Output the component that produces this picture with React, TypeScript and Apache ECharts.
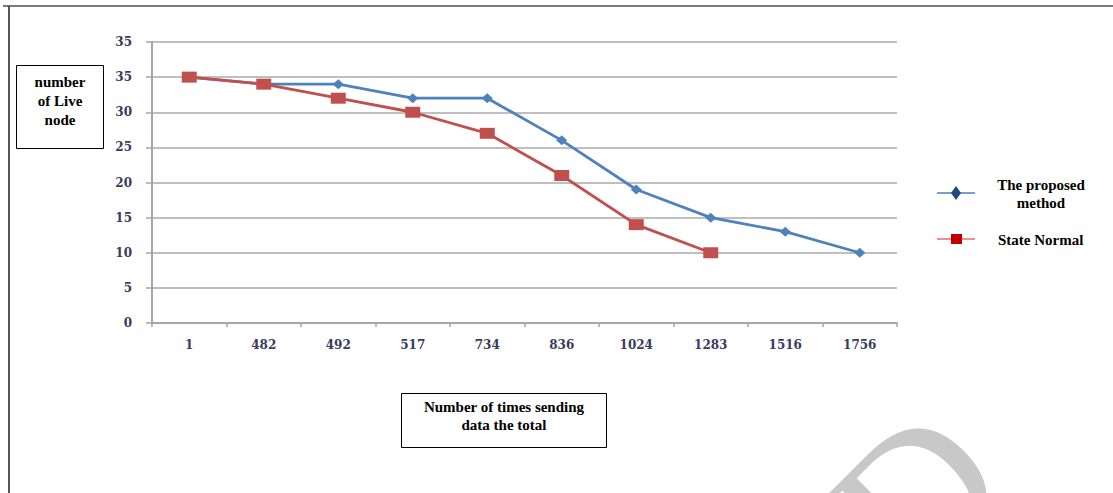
import React, { useEffect, useRef } from "react";
import * as echarts from "echarts";

// Number of data transmissions (category axis)
const sendCounts = ["1", "482", "492", "517", "734", "836", "1024", "1283", "1516", "1756"];
// Live nodes remaining for each method
const proposedMethod = [35, 34, 34, 32, 32, 26, 19, 15, 13, 10];
const stateNormal = [35, 34, 32, 30, 27, 21, 14, 10];
// Y-axis labels as printed (the top gridline carries "35")
const yTickLabels: Record<number, string> = { 0: "0", 5: "5", 10: "10", 15: "15", 20: "20", 25: "25", 30: "30", 35: "35", 40: "35" };

const BLUE = "#4F81BD";
const RED = "#C0504D";
const SERIF = "'Liberation Serif', 'Times New Roman', serif";
const AXIS_FONT = "'DejaVu Serif', serif";

export default function App() {
  const ref = useRef<HTMLDivElement>(null);

  useEffect(() => {
    if (!ref.current) return;
    const chart = echarts.init(ref.current, undefined, { renderer: "svg" });
    chart.setOption({
      animation: false,
      backgroundColor: "#ffffff",
      grid: { left: 152, right: 216, top: 42, bottom: 170, containLabel: false },
      xAxis: {
        type: "category",
        data: sendCounts,
        boundaryGap: true,
        axisLine: { lineStyle: { color: "#A6A6A6", width: 2 } },
        axisTick: { show: true, inside: false, length: 4, lineStyle: { color: "#A6A6A6", width: 1.5 } },
        axisLabel: { color: "#3b3b5c", fontFamily: AXIS_FONT, fontWeight: "bold", fontSize: 12, margin: 16 },
        splitLine: { show: false },
      },
      yAxis: {
        type: "value",
        min: 0,
        max: 40,
        interval: 5,
        axisLine: { show: true, lineStyle: { color: "#A6A6A6", width: 2 } },
        axisTick: { show: true, length: 6, lineStyle: { color: "#A6A6A6", width: 1.5 } },
        axisLabel: {
          color: "#3b3b5c",
          fontFamily: AXIS_FONT,
          fontWeight: "bold",
          fontSize: 12,
          margin: 20,
          formatter: (v: number) => yTickLabels[v] ?? String(v),
        },
        splitLine: { show: true, lineStyle: { color: "#BFBFBF", width: 2 } },
      },
      series: [
        {
          name: "The proposed method",
          type: "line",
          data: proposedMethod,
          lineStyle: { color: BLUE, width: 2.8 },
          itemStyle: { color: BLUE },
          symbol: "diamond",
          symbolSize: [11, 10],
        },
        {
          name: "State Normal",
          type: "line",
          data: stateNormal,
          lineStyle: { color: RED, width: 2.8 },
          itemStyle: { color: RED },
          symbol: "rect",
          symbolSize: [15, 11],
        },
      ],
      graphic: [
        // outer frame
        { type: "line", shape: { x1: 3, y1: 6, x2: 1113, y2: 6 }, style: { stroke: "#7a7a7a", lineWidth: 2 } },
        { type: "line", shape: { x1: 9, y1: 6, x2: 9, y2: 493 }, style: { stroke: "#555555", lineWidth: 2 } },
        // y-axis title box
        { type: "rect", shape: { x: 16.5, y: 65.5, width: 87, height: 83 }, style: { fill: "#fff", stroke: "#000", lineWidth: 1 } },
        {
          type: "text",
          x: 60,
          y: 72,
          style: { text: "number\nof Live\nnode", font: `bold 15px ${SERIF}`, fill: "#000", align: "center", verticalAlign: "top", lineHeight: 19 },
        },
        // x-axis title box
        { type: "rect", shape: { x: 401.5, y: 393.5, width: 205, height: 54 }, style: { fill: "#fff", stroke: "#000", lineWidth: 1 } },
        {
          type: "text",
          x: 504,
          y: 398,
          style: { text: "Number of times sending\ndata the total", font: `bold 15px ${SERIF}`, fill: "#000", align: "center", verticalAlign: "top", lineHeight: 18 },
        },
        // legend: proposed method
        { type: "line", shape: { x1: 937, y1: 193, x2: 975, y2: 193 }, style: { stroke: BLUE, lineWidth: 1.5 } },
        { type: "polygon", shape: { points: [[956, 186], [961, 193], [956, 200], [951, 193]] }, style: { fill: "#1F497D" } },
        {
          type: "text",
          x: 1041,
          y: 176,
          style: { text: "The proposed\nmethod", font: `bold 15px ${SERIF}`, fill: "#000", align: "center", verticalAlign: "top", lineHeight: 18 },
        },
        // legend: state normal
        { type: "line", shape: { x1: 937, y1: 239, x2: 975, y2: 239 }, style: { stroke: "#E02020", lineWidth: 1.2 } },
        { type: "rect", shape: { x: 951, y: 234, width: 11, height: 10 }, style: { fill: "#C00000" } },
        {
          type: "text",
          x: 998,
          y: 240,
          style: { text: "State Normal", font: `bold 15px ${SERIF}`, fill: "#000", align: "left", verticalAlign: "middle" },
        },
        // watermark letter, running diagonally up to the right
        {
          type: "text",
          x: 917,
          y: 495,
          rotation: Math.PI / 4,
          silent: true,
          style: { text: "D", font: `200px ${SERIF}`, fill: "#C8C8C8", align: "center", verticalAlign: "middle" },
        },
      ],
    });
    return () => chart.dispose();
  }, []);

  return <div ref={ref} style={{ position: "fixed", left: 0, top: 0, width: 1113, height: 493 }} />;
}
